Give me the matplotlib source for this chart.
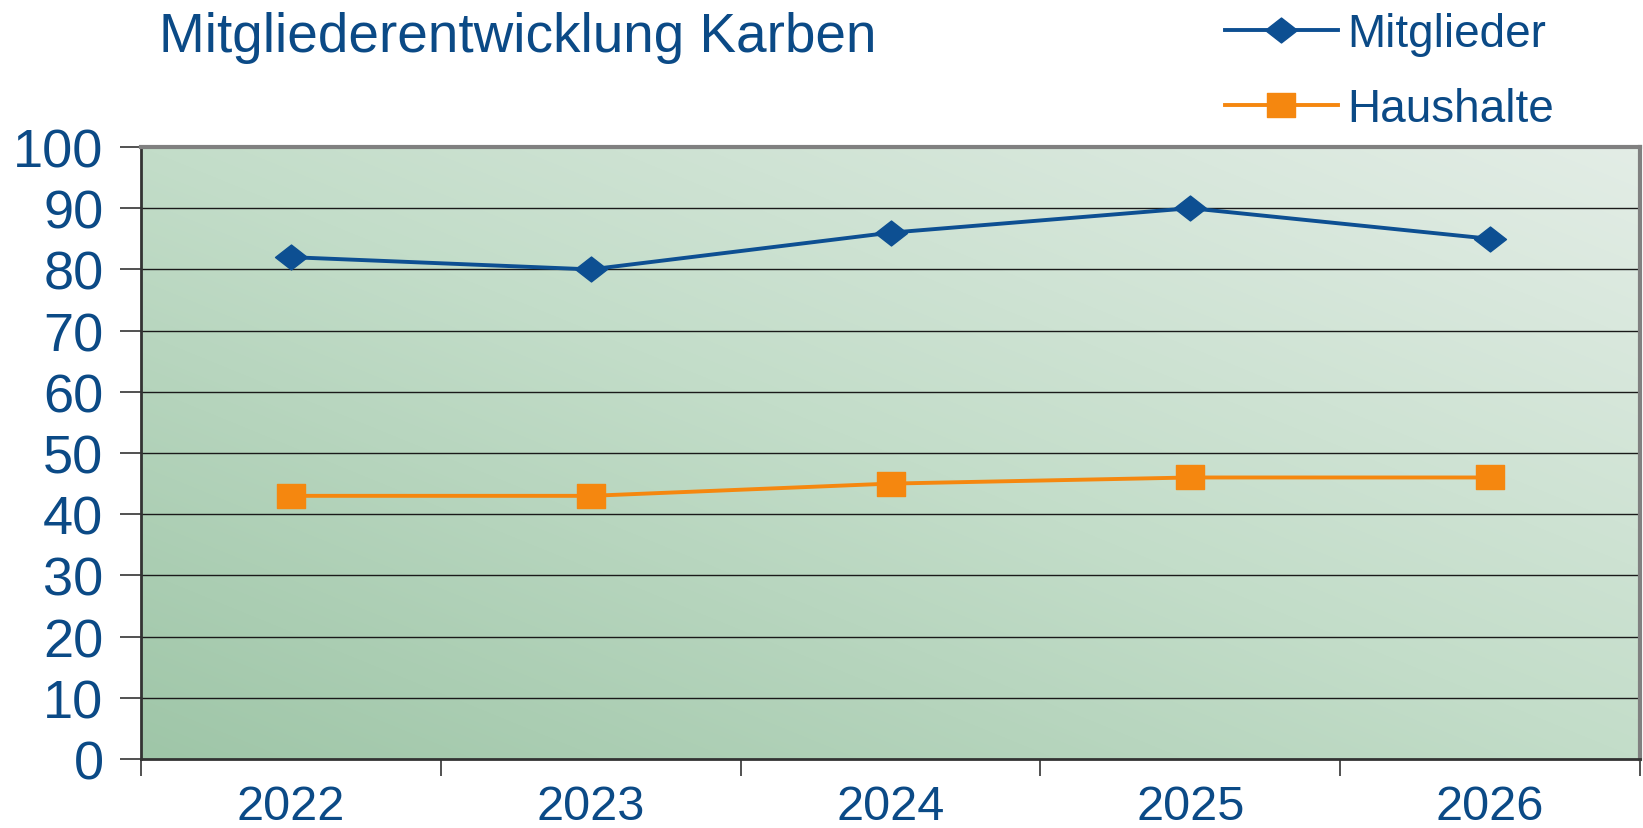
import numpy as np
import matplotlib
matplotlib.use("Agg")
import matplotlib.pyplot as plt
from matplotlib.path import Path
from matplotlib.colors import LinearSegmentedColormap

years = ["2022", "2023", "2024", "2025", "2026"]
mitglieder = [82, 80, 86, 90, 85]
haushalte = [43, 43, 45, 46, 46]
yticks = [0, 10, 20, 30, 40, 50, 60, 70, 80, 90, 100]

TXT = "#0b4a86"
BLUE = "#0d4f92"
ORANGE = "#f5870f"

plt.rcParams['font.family'] = ['Liberation Sans', 'DejaVu Sans']

fig = plt.figure(figsize=(16.43, 8.29), dpi=100)
ax = fig.add_axes([141/1643, 1 - 760/829, (1640-141)/1643, (760-148)/829])

# gradient background
n = 200
gx, gy = np.meshgrid(np.linspace(0, 1, n), np.linspace(0, 1, n))
grad = (gx * 0.5 + gy * 0.5)
cmap = LinearSegmentedColormap.from_list("g", ["#9fc6a8", "#c3ddc9", "#e3ede6"])
ax.imshow(grad, cmap=cmap, extent=[-0.5, 4.5, 0, 100], origin="lower",
          aspect="auto", zorder=0, interpolation="bilinear")

ax.set_xlim(-0.5, 4.5)
ax.set_ylim(0, 100)
for v in yticks[1:-1]:
    ax.axhline(v, color="#1a1a1a", lw=1.0, zorder=1)

diamond = Path([(-1, 0), (0, 0.78), (1, 0), (0, -0.78), (-1, 0)],
               [Path.MOVETO, Path.LINETO, Path.LINETO, Path.LINETO, Path.CLOSEPOLY])
rect = Path([(-1, -0.85), (1, -0.85), (1, 0.85), (-1, 0.85), (-1, -0.85)],
            [Path.MOVETO, Path.LINETO, Path.LINETO, Path.LINETO, Path.CLOSEPOLY])

x = np.arange(len(years))
ax.plot(x, mitglieder, color=BLUE, lw=2.8, marker=diamond, markersize=23,
        zorder=3, label="Mitglieder")
ax.plot(x, haushalte, color=ORANGE, lw=2.8, marker=rect, markersize=20,
        zorder=3, label="Haushalte")

ax.set_yticks(yticks)
ax.set_yticklabels([str(v) for v in yticks], fontsize=39, color=TXT)
ax.tick_params(axis="y", length=15, width=1.2, color="#333333", pad=12)
ax.set_xticks(x)
ax.set_xticklabels(years, fontsize=35, color=TXT)
ax.tick_params(axis="x", length=0, pad=18)
ax.set_xticks(np.arange(-0.5, 4.6, 1), minor=True)
ax.tick_params(axis="x", which="minor", length=12, width=1.2, color="#333333")

ax.spines["left"].set_color("#333333")
ax.spines["left"].set_linewidth(2)
ax.spines["bottom"].set_color("#333333")
ax.spines["bottom"].set_linewidth(2)
ax.spines["top"].set_color("#808080")
ax.spines["top"].set_linewidth(3)
ax.spines["right"].set_color("#808080")
ax.spines["right"].set_linewidth(3)

fig.text(159/1643, 1 - 38/829, "Mitgliederentwicklung Karben", fontsize=39.5,
         color=TXT, va="center", ha="left")

leg = fig.legend(loc="upper left", bbox_to_anchor=(1207/1643, 1 + 5/829),
                 fontsize=33, frameon=False, handlelength=2.45, handletextpad=0.22,
                 labelspacing=0.68, labelcolor=TXT, borderaxespad=0.0)

fig.savefig("out.png", dpi=100)
